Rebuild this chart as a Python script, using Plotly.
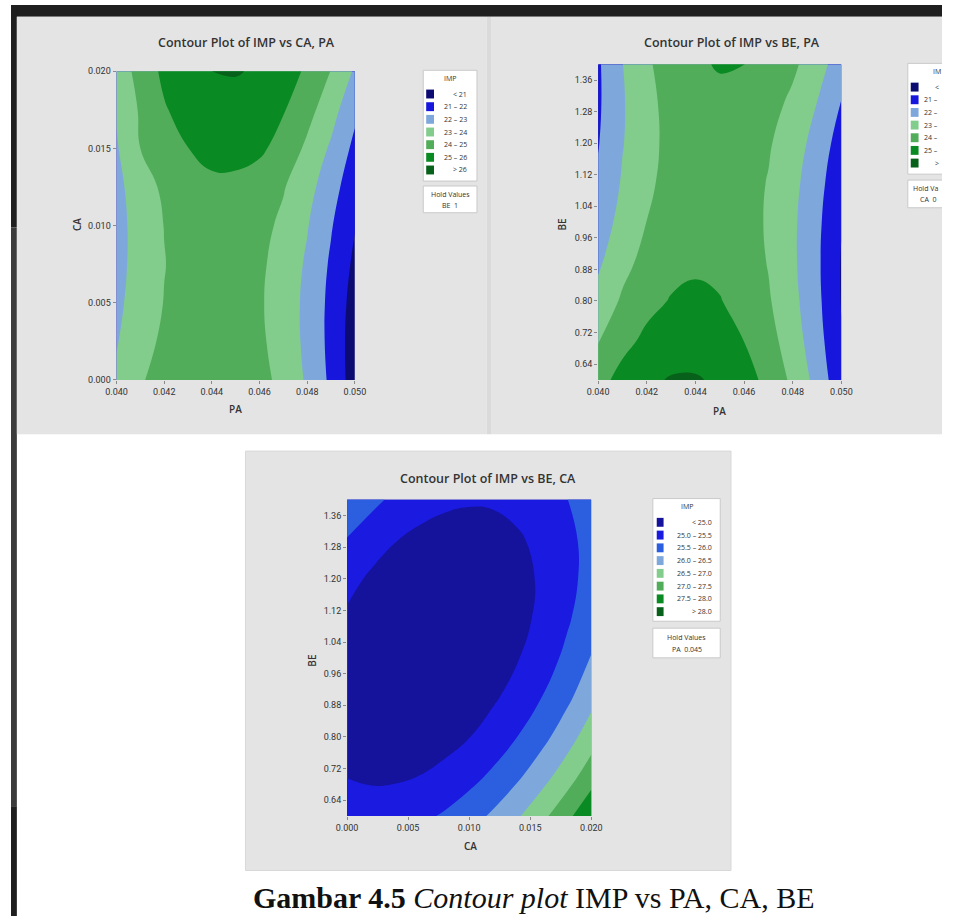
import plotly.graph_objects as go

W, H = 953, 921

# ---------------- data ----------------
pa_values = [0.040, 0.041, 0.042, 0.043, 0.044, 0.045, 0.046, 0.047, 0.048, 0.049, 0.050]
ca_values_p1 = [0.000, 0.0025, 0.005, 0.0075, 0.010, 0.0125, 0.015, 0.0175, 0.020]
be_values = [0.6, 0.7, 0.8, 0.9, 1.0, 1.1, 1.2, 1.3, 1.4]
ca_values_p3 = [0.000, 0.002, 0.004, 0.006, 0.008, 0.010, 0.012, 0.014, 0.016, 0.018, 0.020]

# IMP vs CA (rows) and PA (columns), BE held at 1
imp_ca_pa = [
    [23.15, 23.89, 24.44, 24.76, 24.85, 24.70, 24.32, 23.71, 22.87, 21.80, 20.49],
    [22.94, 23.61, 24.19, 24.53, 24.64, 24.52, 24.17, 23.58, 22.77, 21.72, 20.50],
    [22.80, 23.43, 24.03, 24.40, 24.54, 24.44, 24.11, 23.55, 22.76, 21.74, 20.60],
    [22.72, 23.35, 23.97, 24.37, 24.53, 24.46, 24.16, 23.63, 22.86, 21.86, 20.80],
    [22.70, 23.36, 24.02, 24.44, 24.62, 24.58, 24.30, 23.80, 23.06, 22.08, 21.05],
    [22.75, 23.50, 24.20, 24.63, 24.84, 24.82, 24.57, 24.07, 23.35, 22.41, 21.35],
    [22.90, 24.00, 24.62, 24.99, 25.22, 25.24, 25.15, 24.68, 23.80, 22.85, 21.75],
    [23.08, 24.12, 24.92, 25.36, 25.62, 25.64, 25.48, 25.06, 24.35, 23.40, 22.22],
    [23.27, 24.44, 25.19, 25.71, 26.00, 26.06, 25.89, 25.48, 24.84, 23.97, 22.87],
]

# IMP vs BE (rows) and PA (columns), CA held at 0.01
imp_be_pa = [
    [24.64, 25.35, 25.82, 26.07, 26.08, 25.86, 25.41, 24.72, 23.80, 22.66, 21.28],
    [23.94, 24.69, 25.22, 25.51, 25.57, 25.34, 24.99, 24.36, 23.49, 22.40, 21.06],
    [23.33, 24.14, 24.71, 25.06, 25.17, 25.04, 24.69, 24.10, 23.29, 22.24, 20.96],
    [22.83, 23.69, 24.31, 24.70, 24.86, 24.79, 24.49, 23.95, 23.18, 22.18, 20.95],
    [22.44, 23.34, 24.01, 24.45, 24.66, 24.64, 24.38, 23.90, 23.18, 22.23, 21.04],
    [22.14, 23.10, 23.82, 24.31, 24.57, 24.59, 24.39, 23.95, 23.28, 22.38, 21.24],
    [21.95, 22.95, 23.72, 24.26, 24.57, 24.65, 24.49, 24.10, 23.48, 22.63, 21.54],
    [21.86, 22.91, 23.73, 24.32, 24.68, 24.80, 24.70, 24.36, 23.79, 22.98, 21.95],
    [21.87, 22.98, 23.85, 24.48, 24.89, 25.06, 25.01, 24.72, 24.19, 23.44, 22.45],
]

# IMP vs BE (rows) and CA (columns), PA held at 0.045
imp_be_ca = [
    [25.26, 25.24, 25.28, 25.39, 25.56, 25.79, 26.09, 26.45, 26.88, 27.37, 27.92],
    [24.99, 24.93, 24.94, 25.01, 25.14, 25.34, 25.60, 25.93, 26.32, 26.77, 27.29],
    [24.82, 24.72, 24.69, 24.73, 24.83, 24.99, 25.22, 25.51, 25.86, 26.28, 26.77],
    [24.75, 24.62, 24.55, 24.55, 24.62, 24.74, 24.94, 25.19, 25.51, 25.89, 26.34],
    [24.78, 24.62, 24.52, 24.48, 24.51, 24.60, 24.76, 24.98, 25.26, 25.61, 26.02],
    [24.92, 24.72, 24.58, 24.51, 24.50, 24.56, 24.68, 24.86, 25.11, 25.43, 25.80],
    [25.16, 24.92, 24.75, 24.64, 24.60, 24.62, 24.71, 24.85, 25.07, 25.34, 25.69],
    [25.48, 25.23, 25.02, 24.88, 24.80, 24.78, 24.83, 24.95, 25.12, 25.37, 25.67],
    [25.94, 25.63, 25.39, 25.21, 25.10, 25.05, 25.06, 25.14, 25.28, 25.49, 25.76],
]

levels_a = [21, 22, 23, 24, 25, 26]
levels_b = [25.0, 25.5, 26.0, 26.5, 27.0, 27.5, 28.0]
legend_text_a = ["< 21", "21 \u2013 22", "22 \u2013 23", "23 \u2013 24", "24 \u2013 25", "25 \u2013 26", "> 26"]
# the right-hand panel's legend is cut by the page edge: only these parts show
legend_text_a_cut = ["<", "21 \u2013", "22 \u2013", "23 \u2013", "24 \u2013", "25 \u2013", ">"]
legend_text_b = ["< 25.0", "25.0 \u2013 25.5", "25.5 \u2013 26.0", "26.0 \u2013 26.5",
                 "26.5 \u2013 27.0", "27.0 \u2013 27.5", "27.5 \u2013 28.0", "> 28.0"]
band_colors_a = ["#0b0b72", "#1616dc", "#7ea8dc", "#82cd8c", "#52ad5a", "#0a8a22", "#07611a"]
band_colors_b = ["#15129c", "#1a1ae0", "#2b5fe0", "#7ea8dc", "#82cd8c", "#52ad5a", "#0a8a22", "#07611a"]

pa_ticks = [0.040, 0.042, 0.044, 0.046, 0.048, 0.050]
ca_ticks = [0.000, 0.005, 0.010, 0.015, 0.020]
be_ticks = [0.64, 0.72, 0.80, 0.88, 0.96, 1.04, 1.12, 1.20, 1.28, 1.36]

# ---------------- helpers (page pixels -> paper fractions) ----------------
def fx(p):
    return p / W


def fy(p):
    return 1 - p / H


shapes = []
annotations = []


def rect(x0, y0, x1, y1, fill, line_color=None, line_width=0, layer="below"):
    x1 = min(x1, W)
    y1 = min(y1, H)
    shapes.append(dict(
        type="rect", xref="paper", yref="paper",
        x0=fx(x0), x1=fx(x1), y0=fy(y1), y1=fy(y0),
        fillcolor=fill, layer=layer,
        line=dict(width=line_width, color=line_color or fill),
    ))


def seg(x0, y0, x1, y1, color, width=1):
    shapes.append(dict(
        type="line", xref="paper", yref="paper", layer="below",
        x0=fx(x0), x1=fx(min(x1, W)), y0=fy(y0), y1=fy(y1),
        line=dict(width=width, color=color),
    ))


def text(x, y, s, size, color="#333333", family="Open Sans", weight=400,
         xanchor="center", yanchor="middle", angle=0):
    annotations.append(dict(
        x=fx(x), y=fy(y), xref="paper", yref="paper", text=s, showarrow=False,
        xanchor=xanchor, yanchor=yanchor, textangle=angle,
        font=dict(size=size, color=color, family=family, weight=weight),
        borderpad=0,
    ))


def scale(colors):
    n = len(colors)
    return [[i / (n - 1), c] for i, c in enumerate(colors)]


def legend(x0, y0, x1, y1, title_y, row_y0, row_step, sq_x0, sq_w, sq_h, text_x,
           labels, colors, hold_y0, hold_y1, hold_label, fs=7):
    rect(x0, y0, x1, y1, "white", "#c9c9c9", 1)
    cx = (x0 + x1) / 2
    text(cx, title_y, "IMP", fs)
    for i, (lab, col) in enumerate(zip(labels, colors)):
        yy = row_y0 + i * row_step
        rect(sq_x0, yy - sq_h / 2, sq_x0 + sq_w, yy + sq_h / 2, col)
        text(text_x, yy, lab, fs, xanchor="right")
    rect(x0, hold_y0, x1, hold_y1, "white", "#c9c9c9", 1)
    hh = (hold_y1 - hold_y0)
    text(cx, hold_y0 + hh * 0.32, "Hold Values", fs)
    text(cx, hold_y0 + hh * 0.72, hold_label, fs)


def open_box(x0, y0, y1):
    # white box running past the right page edge (only three sides visible)
    rect(x0, y0, W, y1, "white")
    seg(x0, y0, W, y0, "#c9c9c9")
    seg(x0, y1, W, y1, "#c9c9c9")
    seg(x0, y0, x0, y1, "#c9c9c9")


# ---------------- page background ----------------
rect(0, 0, W, 12, "#1f1f1f")
rect(0, 0, 6, 225, "#1f1f1f")
rect(0, 225, 6, 810, "#3b3b3b")
rect(0, 810, 6, H, "#1f1f1f")
rect(6, 12, 487, 434, "#e4e4e4")
rect(487, 12, 492, 434, "#dadada")
rect(492, 12, W, 434, "#e4e4e4")
rect(240, 451, 737, 875, "#e4e4e4", "#d8d8d8", 1)

# ---------------- traces ----------------
fig = go.Figure()

common = dict(autocontour=False, showscale=False, hoverinfo="skip",
              line=dict(width=0, smoothing=1.3))

fig.add_trace(go.Contour(
    x=pa_values, y=ca_values_p1, z=imp_ca_pa, xaxis="x", yaxis="y",
    contours=dict(start=levels_a[0], end=levels_a[-1], size=levels_a[1] - levels_a[0],
                  coloring="fill", showlines=False),
    colorscale=scale(band_colors_a), **common))

fig.add_trace(go.Contour(
    x=pa_values, y=be_values, z=imp_be_pa, xaxis="x2", yaxis="y2",
    contours=dict(start=levels_a[0], end=levels_a[-1], size=levels_a[1] - levels_a[0],
                  coloring="fill", showlines=False),
    colorscale=scale(band_colors_a), **common))

fig.add_trace(go.Contour(
    x=ca_values_p3, y=be_values, z=imp_be_ca, xaxis="x3", yaxis="y3",
    contours=dict(start=levels_b[0], end=levels_b[-1], size=levels_b[1] - levels_b[0],
                  coloring="fill", showlines=False),
    colorscale=scale(band_colors_b), **common))

tickfont = dict(size=9, color="#333333", family="Roboto")


def axis(domain, rng, ticks, fmt, anchor):
    return dict(domain=domain, range=rng, tickvals=ticks, ticktext=[fmt.format(t) for t in ticks],
                ticks="outside", ticklen=3, tickcolor="#8a8a8a", tickwidth=1,
                showgrid=False, zeroline=False, showline=False, tickfont=tickfont,
                anchor=anchor, fixedrange=True)


# ---------------- titles, axis labels, legends ----------------
text(241, 38, "Contour Plot of IMP vs CA, PA", 12.5, weight=600)
text(738, 38, "Contour Plot of IMP vs BE, PA", 12.5, weight=600)
text(488, 479, "Contour Plot of IMP vs BE, CA", 12.5, weight=600)

text(230, 408, "PA", 10, weight=600)
text(67, 222, "CA", 10, weight=600, angle=-90)
text(725, 410, "PA", 10, weight=600)
text(564, 222, "BE", 10, weight=600, angle=-90)
text(470, 850, "CA", 10, weight=600)
text(308, 663, "BE", 10, weight=600, angle=-90)

# left panel legend
legend(422, 66, 477, 178, 74, 90, 12.8, 425, 8, 9, 468,
       legend_text_a, band_colors_a, 183, 210, "BE  1")

# right panel legend (cut by the page edge)
open_box(918, 59, 171)
text(943, 67, "IM", 7, xanchor="left")
for i, (lab, col) in enumerate(zip(legend_text_a_cut, band_colors_a)):
    yy = 83 + i * 12.8
    rect(921, yy - 4.5, 929, yy + 4.5, col)
    text(945 if len(lab) == 1 else 934, yy, lab, 7, xanchor="left")
open_box(918, 177, 205)
text(922, 186, "Hold Va", 7, xanchor="left")
text(929, 197, "CA  0", 7, xanchor="left")

# bottom panel legend
legend(657, 499, 726, 623, 507, 523, 12.9, 661, 7, 9, 719,
       legend_text_b, band_colors_b, 630, 660, "PA  0.045")

# caption
annotations.append(dict(
    x=fx(247), y=fy(920), xref="paper", yref="paper", showarrow=False,
    xanchor="left", yanchor="bottom", borderpad=0,
    text="<b>Gambar 4.5</b> <i>Contour plot</i> IMP vs PA, CA, BE",
    font=dict(size=30, color="#111111", family="Liberation Serif"),
))

fig.update_layout(
    width=W, height=H, autosize=False,
    margin=dict(l=0, r=0, t=0, b=0),
    paper_bgcolor="white", plot_bgcolor="rgba(0,0,0,0)",
    showlegend=False,
    xaxis=axis([fx(108), fx(352)], [0.040, 0.050], pa_ticks, "{:.3f}", "y"),
    yaxis=axis([fy(379), fy(67)], [0.0, 0.020], ca_ticks, "{:.3f}", "x"),
    xaxis2=axis([fx(601), fx(850)], [0.040, 0.050], pa_ticks, "{:.3f}", "y2"),
    yaxis2=axis([fy(379), fy(60)], [0.6, 1.4], be_ticks, "{:.2f}", "x2"),
    xaxis3=axis([fx(344), fx(594)], [0.0, 0.020], ca_ticks, "{:.3f}", "y3"),
    yaxis3=axis([fy(820), fy(500)], [0.6, 1.4], be_ticks, "{:.2f}", "x3"),
    shapes=shapes,
    annotations=annotations,
)

fig.write_html("out.html", config={"displayModeBar": False})
